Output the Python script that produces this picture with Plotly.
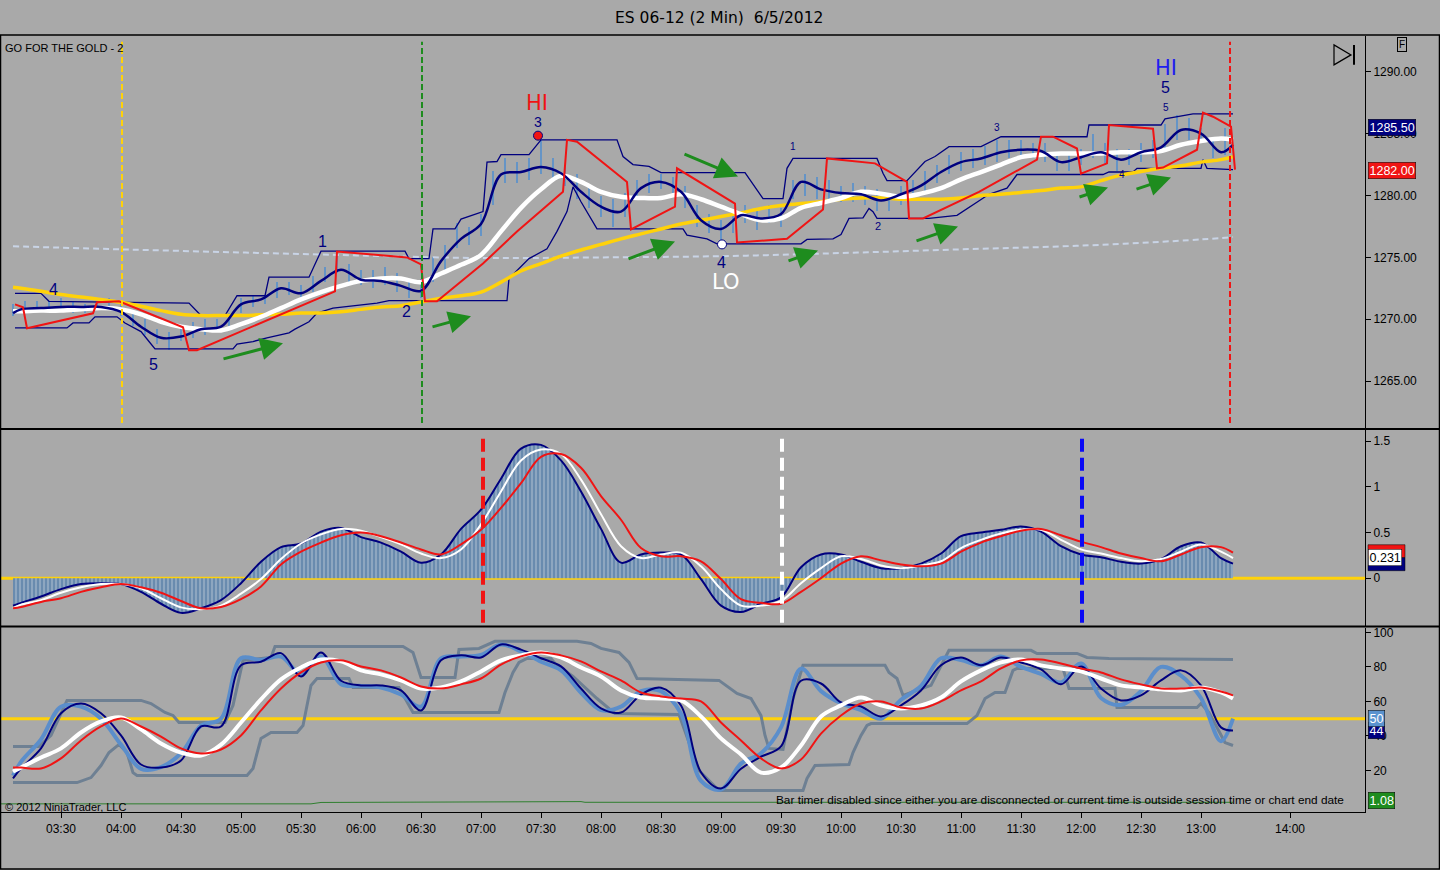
import plotly.graph_objects as go

W, H = 1440, 870
BG = "#A9A9A9"
NAVY = "#00007F"
RED = "#F01414"
GOLD = "#FFD20A"
GREEN = "#1E8C1E"

# ---------------------------------------------------------------- data
# 10-minute grid used by the smoothed indicator lines
T10 = [
    "03:06", "03:10", "03:20", "03:30", "03:40", "03:50",
    "04:00", "04:10", "04:20", "04:30", "04:40", "04:50",
    "05:00", "05:10", "05:20", "05:30", "05:40", "05:50",
    "06:00", "06:10", "06:20", "06:30", "06:40", "06:50",
    "07:00", "07:10", "07:20", "07:30", "07:40", "07:50",
    "08:00", "08:10", "08:20", "08:30", "08:40", "08:50",
    "09:00", "09:10", "09:20", "09:30", "09:40", "09:50",
    "10:00", "10:10", "10:20", "10:30", "10:40", "10:50",
    "11:00", "11:10", "11:20", "11:30", "11:40", "11:50",
    "12:00", "12:10", "12:20", "12:30", "12:40", "12:50",
    "13:00", "13:10", "13:16",
]

# price panel
MA_SLOW = [
    1272.58, 1272.50, 1272.26, 1272.00, 1271.80, 1271.60, 1271.37, 1271.05, 1270.70, 1270.40,
    1270.30, 1270.30, 1270.30, 1270.36, 1270.40, 1270.50, 1270.50, 1270.60, 1270.80, 1271.00,
    1271.10, 1271.40, 1271.70, 1271.90, 1272.20, 1273.00, 1273.90, 1274.50, 1275.10, 1275.60,
    1276.05, 1276.50, 1276.90, 1277.30, 1277.70, 1278.00, 1278.30, 1278.60, 1278.95, 1279.20,
    1279.35, 1279.50, 1279.70, 1279.80, 1279.80, 1279.70, 1279.70, 1279.70, 1279.80, 1280.00,
    1280.10, 1280.25, 1280.40, 1280.60, 1280.70, 1281.20, 1281.65, 1281.95, 1282.20, 1282.40,
    1282.70, 1282.90, 1283.15,
]
MA_MID = [
    1270.65, 1270.65, 1270.70, 1270.70, 1270.80, 1270.90, 1270.80, 1270.40, 1269.80, 1269.40,
    1269.20, 1269.10, 1269.60, 1270.20, 1270.90, 1271.60, 1272.20, 1272.70, 1273.10, 1273.30,
    1273.30, 1273.00, 1273.70, 1274.40, 1275.20, 1277.10, 1279.00, 1280.50, 1281.60, 1281.10,
    1280.30, 1279.90, 1279.80, 1279.80, 1280.10, 1279.70, 1279.10, 1278.50, 1278.00, 1278.15,
    1279.00, 1279.40, 1279.80, 1280.30, 1280.15, 1279.90, 1280.15, 1280.60, 1281.30, 1281.90,
    1282.50, 1283.10, 1283.30, 1283.40, 1283.40, 1283.40, 1283.50, 1283.50, 1283.60, 1284.10,
    1284.40, 1284.60, 1284.50,
]
MA_FAST = [
    1270.50, 1270.80, 1270.90, 1271.00, 1271.00, 1271.00, 1270.60, 1269.40, 1268.50, 1268.60,
    1269.20, 1269.40, 1271.20, 1271.60, 1272.50, 1272.10, 1273.10, 1274.00, 1273.20, 1273.10,
    1272.70, 1272.30, 1274.70, 1276.50, 1277.70, 1281.70, 1281.90, 1282.30, 1281.80, 1280.30,
    1279.10, 1278.70, 1280.60, 1281.10, 1280.30, 1278.00, 1277.30, 1278.40, 1278.15, 1278.50,
    1281.10, 1280.50, 1280.20, 1280.10, 1279.60, 1280.10, 1280.80, 1281.90, 1282.70, 1283.00,
    1283.50, 1283.70, 1283.60, 1282.70, 1283.10, 1283.50, 1282.90, 1283.50, 1283.90, 1285.30,
    1285.00, 1283.50, 1284.10,
]

MA_LONG_T = ["03:06", "04:00", "05:00", "06:00", "07:00", "08:00", "09:00",
             "10:00", "11:00", "12:00", "13:00", "13:16"]
MA_LONG = [1275.90, 1275.65, 1275.40, 1275.15, 1274.95, 1275.00, 1275.10,
           1275.35, 1275.65, 1275.95, 1276.45, 1276.65]

# 6-minute price bars (high / low)
BAR_T = [
    "03:06", "03:12", "03:18", "03:24", "03:30", "03:36", "03:42", "03:48", "03:54", "04:00",
    "04:06", "04:12", "04:18", "04:24", "04:30", "04:36", "04:42", "04:48", "04:54", "05:00",
    "05:06", "05:12", "05:18", "05:24", "05:30", "05:36", "05:42", "05:48", "05:54", "06:00",
    "06:06", "06:12", "06:18", "06:24", "06:30", "06:36", "06:42", "06:48", "06:54", "07:00",
    "07:06", "07:12", "07:18", "07:24", "07:30", "07:36", "07:42", "07:48", "07:54", "08:00",
    "08:06", "08:12", "08:18", "08:24", "08:30", "08:36", "08:42", "08:48", "08:54", "09:00",
    "09:06", "09:12", "09:18", "09:24", "09:30", "09:36", "09:42", "09:48", "09:54", "10:00",
    "10:06", "10:12", "10:18", "10:24", "10:30", "10:36", "10:42", "10:48", "10:54", "11:00",
    "11:06", "11:12", "11:18", "11:24", "11:30", "11:36", "11:42", "11:48", "11:54", "12:00",
    "12:06", "12:12", "12:18", "12:24", "12:30", "12:36", "12:42", "12:48", "12:54", "13:00",
    "13:06", "13:12",
]
BAR_HI = [
    1271.25, 1271.50, 1271.50, 1271.50, 1271.75, 1271.50, 1271.25, 1271.50, 1271.75, 1271.25,
    1270.75, 1270.00, 1269.25, 1269.00, 1269.25, 1269.75, 1270.00, 1270.00, 1270.50, 1271.75,
    1272.00, 1272.00, 1273.00, 1273.00, 1272.75, 1273.50, 1274.25, 1275.25, 1274.50, 1274.00,
    1274.00, 1274.25, 1273.75, 1273.25, 1273.25, 1275.00, 1276.00, 1277.75, 1277.50, 1278.50,
    1282.00, 1283.00, 1282.75, 1283.00, 1284.50, 1283.00, 1282.50, 1281.75, 1280.75, 1280.00,
    1279.75, 1280.25, 1281.25, 1281.75, 1281.75, 1281.50, 1280.75, 1279.25, 1278.50, 1278.00,
    1278.75, 1279.25, 1278.75, 1279.25, 1279.00, 1281.25, 1281.75, 1281.50, 1281.25, 1280.75,
    1281.00, 1280.75, 1280.50, 1280.25, 1280.75, 1281.25, 1282.00, 1282.50, 1283.25, 1283.50,
    1283.75, 1284.00, 1284.50, 1284.50, 1284.50, 1284.25, 1284.25, 1283.50, 1283.25, 1283.75,
    1285.00, 1284.25, 1283.75, 1283.75, 1284.25, 1284.50, 1285.75, 1286.50, 1286.25, 1285.50,
    1284.75, 1285.50,
]
BAR_LO = [
    1270.25, 1270.50, 1270.75, 1270.50, 1270.75, 1270.50, 1270.50, 1270.75, 1270.75, 1270.25,
    1269.50, 1268.75, 1268.00, 1267.50, 1268.25, 1268.50, 1268.75, 1269.00, 1269.25, 1270.50,
    1271.00, 1271.25, 1271.75, 1272.00, 1271.75, 1272.25, 1273.00, 1273.75, 1272.75, 1272.75,
    1272.50, 1272.75, 1272.25, 1271.75, 1271.75, 1273.00, 1274.00, 1275.75, 1276.00, 1276.75,
    1279.25, 1281.00, 1281.00, 1281.25, 1281.75, 1281.25, 1280.75, 1279.75, 1279.00, 1278.25,
    1277.50, 1278.25, 1279.75, 1280.25, 1280.50, 1280.00, 1279.00, 1277.50, 1277.00, 1276.00,
    1277.00, 1277.75, 1277.25, 1277.75, 1277.50, 1279.75, 1280.00, 1279.75, 1279.50, 1279.50,
    1279.50, 1279.25, 1278.75, 1278.75, 1279.25, 1279.75, 1280.25, 1281.00, 1281.75, 1282.00,
    1282.25, 1282.50, 1282.75, 1283.00, 1283.00, 1283.00, 1282.75, 1282.00, 1282.00, 1282.50,
    1283.00, 1282.50, 1282.00, 1282.50, 1282.75, 1283.00, 1283.75, 1284.50, 1284.50, 1284.25,
    1283.00, 1283.25,
]

# price channel (upper / lower)
UP_T = ["03:07", "03:20", "03:24", "04:34", "04:40", "04:52", "04:58", "05:12", "05:14", "05:34",
        "05:40", "06:22", "06:24", "06:34", "06:36", "06:47", "06:50", "07:01", "07:03", "07:08",
        "07:10", "07:24", "07:30", "08:08", "08:11", "08:16", "08:24", "08:30", "09:12", "09:17",
        "09:21", "09:31", "09:33", "09:36", "10:18", "10:21", "10:23", "10:33", "10:37", "10:42",
        "10:47", "10:54", "11:10", "11:20", "12:03", "12:04", "12:40", "12:42", "12:56", "13:16"]
UP_P = [1272.10, 1272.10, 1271.45, 1271.30, 1270.30, 1270.30, 1271.90, 1271.90, 1273.40, 1273.40,
        1275.50, 1275.50, 1274.90, 1274.90, 1277.30, 1277.30, 1278.10, 1278.70, 1282.70, 1282.75,
        1283.30, 1283.30, 1284.50, 1284.50, 1283.15, 1282.50, 1282.35, 1281.85, 1281.85, 1280.70,
        1279.75, 1279.75, 1282.20, 1283.00, 1283.00, 1281.80, 1281.20, 1281.20, 1281.90, 1282.75,
        1283.15, 1283.95, 1283.95, 1284.75, 1284.75, 1285.70, 1285.70, 1286.20, 1286.60, 1286.60]
DN_T = ["03:07", "03:33", "03:36", "03:44", "03:47", "03:58", "04:02", "04:10", "04:14", "04:17",
        "04:56", "04:58", "05:06", "05:13", "05:24", "05:27", "05:34", "05:38", "05:46", "06:08",
        "06:14", "07:13", "07:14", "07:24", "07:33", "07:38", "07:43", "07:46", "07:50", "07:58",
        "08:41", "08:43", "08:53", "08:58", "09:40", "09:43", "09:56", "10:00", "10:04", "10:11",
        "10:14", "10:16", "10:18", "10:44", "10:58", "11:03", "11:14", "11:23", "11:28", "12:11",
        "12:14", "12:26", "12:28", "13:00", "13:01", "13:03", "13:16"]
DN_P = [1269.30, 1269.30, 1269.70, 1269.70, 1270.20, 1270.20, 1269.70, 1269.00, 1268.20, 1267.60,
        1267.60, 1268.00, 1268.20, 1268.50, 1268.90, 1269.20, 1269.80, 1270.50, 1270.90, 1271.30,
        1271.50, 1271.50, 1273.30, 1274.90, 1275.70, 1277.10, 1278.70, 1280.70, 1279.50, 1277.30,
        1277.30, 1276.80, 1276.50, 1276.10, 1276.10, 1276.45, 1276.50, 1276.85, 1278.15, 1278.20,
        1278.95, 1278.70, 1278.15, 1278.15, 1278.40, 1278.95, 1280.10, 1280.60, 1281.70, 1281.70,
        1281.90, 1281.90, 1282.20, 1282.20, 1282.90, 1282.20, 1282.10]

# red trailing stop
RED_T = ["03:07", "03:11", "03:13", "03:46", "03:48", "03:59", "04:31", "04:34", "04:38", "05:47",
         "05:48", "06:23", "06:30", "06:32", "06:38", "07:01", "07:18", "07:41", "07:43", "07:48",
         "08:13", "08:15", "08:37", "08:38", "09:07", "09:08", "09:33", "09:51", "09:53", "10:17",
         "10:33", "10:34", "10:41", "11:09", "11:38", "11:40", "11:46", "11:58", "12:00", "12:13",
         "12:14", "12:36", "12:38", "12:41", "12:58", "13:01", "13:06", "13:15", "13:17"]
RED_P = [1271.20, 1270.97, 1269.27, 1270.48, 1271.37, 1271.45, 1269.35, 1267.50, 1267.50, 1272.26,
         1275.48, 1275.00, 1274.44, 1271.45, 1271.45, 1274.50, 1277.10, 1280.30, 1284.50, 1284.35,
         1281.10, 1277.26, 1279.10, 1282.20, 1279.35, 1276.20, 1276.50, 1278.87, 1283.00, 1282.60,
         1281.10, 1278.15, 1278.15, 1280.30, 1282.90, 1284.76, 1284.76, 1283.80, 1281.77, 1282.60,
         1285.70, 1285.40, 1282.20, 1282.26, 1283.70, 1286.70, 1286.37, 1285.56, 1282.10]

# swing points and wave counts
PIVOT_T = ["07:28:30", "09:00:30"]
PIVOT_P = [1284.84, 1276.05]
SWING_T = ["07:28", "09:02", "12:42:30"]
SWING_P = [1287.50, 1272.98, 1290.32]
SWING_TXT = ["HI", "LO", "HI"]
WAVE_T = ["03:26", "04:16", "05:40:30", "06:22:30", "07:28:30", "09:00",
          "09:36", "10:18:30", "11:18", "12:20:30", "12:42:30", "12:42"]
WAVE_P = [1272.40, 1266.35, 1276.30, 1270.65, 1285.95, 1274.60,
          1283.95, 1277.50, 1285.50, 1281.70, 1287.10, 1288.70]
WAVE_TXT = ["4", "5", "1", "2", "3", "4", "1", "2", "3", "4", "5", "5"]

# green arrows: tail -> head
ARROW_T0 = ["04:50:30", "06:35", "08:13", "08:41", "09:33", "10:37", "11:58:30", "12:27"]
ARROW_P0 = [1266.77, 1269.35, 1274.84, 1283.39, 1274.68, 1276.29, 1279.84, 1280.48]
ARROW_T1 = ["05:21", "06:55", "08:37", "09:08:30", "09:48:30", "10:58:30", "12:13:30", "12:45"]
ARROW_P1 = [1268.06, 1270.24, 1276.29, 1281.53, 1275.56, 1277.50, 1280.65, 1281.45]

TOP_VLINE_T = ["04:00:30", "06:30:30", "13:14:30"]
MACD_VLINE_T = ["07:01", "09:30:30", "12:00:30"]

# MACD panel
MACD = [
    -0.30, -0.27, -0.20, -0.12, -0.065, -0.055, -0.065, -0.15, -0.28, -0.38,
    -0.33, -0.24, -0.055, 0.18, 0.34, 0.38, 0.51, 0.55, 0.45, 0.39,
    0.29, 0.17, 0.26, 0.54, 0.75, 1.09, 1.42, 1.46, 1.29, 0.95,
    0.54, 0.17, 0.26, 0.28, 0.26, -0.01, -0.30, -0.37, -0.28, -0.21,
    0.12, 0.26, 0.26, 0.18, 0.11, 0.11, 0.16, 0.27, 0.46, 0.50,
    0.53, 0.565, 0.51, 0.35, 0.26, 0.23, 0.18, 0.16, 0.21, 0.35,
    0.39, 0.22, 0.16,
]
MACD_AVG = [
    -0.33, -0.29, -0.24, -0.16, -0.10, -0.065, -0.065, -0.11, -0.22, -0.32,
    -0.34, -0.30, -0.17, -0.01, 0.21, 0.38, 0.48, 0.54, 0.52, 0.45,
    0.37, 0.27, 0.22, 0.315, 0.59, 0.95, 1.29, 1.41, 1.36, 1.08,
    0.70, 0.35, 0.22, 0.26, 0.28, 0.13, -0.12, -0.30, -0.30, -0.25,
    -0.055, 0.11, 0.24, 0.21, 0.14, 0.11, 0.14, 0.185, 0.33, 0.42,
    0.49, 0.53, 0.53, 0.42, 0.315, 0.27, 0.22, 0.185, 0.21, 0.29,
    0.37, 0.29, 0.22,
]
MACD_SLOW = [
    -0.33, -0.315, -0.26, -0.22, -0.15, -0.10, -0.065, -0.10, -0.16, -0.25,
    -0.33, -0.315, -0.23, -0.09, 0.15, 0.29, 0.39, 0.47, 0.50, 0.46,
    0.39, 0.315, 0.26, 0.37, 0.53, 0.77, 1.04, 1.33, 1.36, 1.21,
    0.90, 0.64, 0.33, 0.24, 0.24, 0.185, -0.01, -0.23, -0.27, -0.28,
    -0.15, 0.0, 0.16, 0.24, 0.195, 0.15, 0.13, 0.16, 0.29, 0.39,
    0.46, 0.52, 0.54, 0.47, 0.40, 0.34, 0.27, 0.22, 0.185, 0.26,
    0.34, 0.34, 0.28,
]

# stochastics panel
STOCH_RAW = [
    17, 25, 38, 57, 57, 50, 35, 21, 22, 30,
    46, 50, 85, 84, 86, 76, 86, 70, 69, 68,
    64, 57, 85, 86, 87, 93, 89, 83, 78, 65,
    55, 57, 66, 66, 53, 14, 9, 24, 30, 45,
    79, 66, 59, 55, 50, 61, 69, 85, 84, 81,
    86, 80, 76, 71, 82, 62, 58, 66, 80, 75,
    62, 37, 50,
]
STOCH_K = [
    15.4, 21.2, 32.8, 53.2, 58.8, 53.2, 40.3, 23.5, 21.7, 25.8,
    45.5, 45.5, 81.0, 83.0, 88.0, 74.5, 88.4, 72.0, 69.3, 69.3,
    66.4, 54.8, 83.8, 86.7, 85.5, 93.0, 90.0, 85.0, 80.3, 67.5,
    56.0, 53.6, 64.0, 68.0, 57.7, 19.0, 9.6, 21.0, 28.0, 34.0,
    72.0, 70.4, 59.4, 57.1, 51.3, 57.7, 66.4, 81.0, 85.5, 81.0,
    85.5, 82.6, 78.6, 69.9, 80.3, 67.5, 60.6, 63.5, 72.2, 78.0,
    69.3, 45.0, 43.2,
]
STOCH_D = [
    19.4, 21.7, 27.5, 32.8, 42.0, 48.4, 50.7, 43.8, 35.7, 30.4,
    28.7, 35.0, 47.8, 61.2, 72.8, 79.7, 84.3, 83.2, 78.0, 75.7,
    72.2, 67.5, 68.1, 71.6, 77.4, 83.8, 86.7, 88.4, 85.5, 79.7,
    74.5, 66.4, 62.3, 61.7, 60.6, 51.3, 38.6, 29.3, 18.8, 21.7,
    34.5, 51.3, 57.7, 62.3, 57.7, 55.9, 57.7, 62.3, 71.6, 78.0,
    82.6, 84.3, 80.9, 79.1, 77.4, 73.3, 69.3, 68.1, 67.0, 66.4,
    68.1, 65.2, 61.7,
]
STOCH_SLOW = [
    21.7, 21.7, 21.2, 27.0, 37.4, 45.5, 50.1, 45.5, 39.7, 32.8,
    29.9, 32.2, 40.3, 54.8, 67.5, 76.8, 82.6, 83.8, 80.3, 78.0,
    73.9, 68.7, 67.5, 69.9, 73.3, 81.4, 86.1, 88.4, 86.7, 83.2,
    77.4, 72.2, 65.2, 62.9, 61.7, 60.0, 47.8, 37.4, 27.0, 21.2,
    26.4, 41.4, 51.9, 58.8, 60.0, 56.5, 55.9, 60.0, 66.4, 71.6,
    79.1, 83.8, 84.3, 82.0, 79.1, 76.8, 72.8, 69.9, 67.5, 67.5,
    68.1, 65.8, 63.5,
]
SU_T = ["03:06", "03:19", "03:25", "03:33", "04:10", "04:15", "04:22", "04:26", "04:29", "04:52",
        "04:56", "05:01", "05:15", "05:17", "06:21", "06:26", "06:30", "06:47", "06:49", "06:59",
        "07:07", "07:48", "07:55", "08:00", "08:09", "08:14", "08:18", "08:59", "09:08", "09:15",
        "09:20", "09:22", "09:24", "09:31", "09:36", "09:41", "10:22", "10:24", "10:28", "10:31",
        "10:45", "10:54", "11:35", "11:38", "11:58", "12:03", "12:14", "13:16"]
SU_V = [33.9, 33.9, 40.3, 60.6, 60.6, 58.8, 53.6, 51.9, 47.8, 47.8,
        57.7, 83.8, 85.5, 91.9, 91.9, 88.4, 73.9, 73.9, 90.1, 90.7,
        94.8, 94.8, 93.6, 90.7, 88.4, 82.6, 73.3, 72.2, 64.6, 61.7,
        51.9, 40.3, 32.8, 32.2, 61.7, 80.9, 80.9, 76.8, 73.3, 63.5,
        69.3, 89.6, 89.6, 87.8, 87.8, 85.5, 84.9, 84.3]
SL_T = ["03:06", "03:38", "03:45", "03:50", "03:54", "03:59", "04:03", "04:06", "04:08", "05:03",
        "05:06", "05:10", "05:15", "05:28", "05:31", "05:35", "05:38", "05:54", "05:56", "06:19",
        "06:26", "07:09", "07:12", "07:16", "07:19", "07:23", "07:35", "07:37", "07:46", "07:58",
        "08:07", "08:39", "08:44", "08:49", "08:59", "09:41", "09:43", "09:47", "10:04", "10:06",
        "10:10", "10:13", "10:15", "11:03", "11:08", "11:12", "11:17", "11:22", "11:26", "11:28",
        "11:51", "11:54", "12:17", "12:18", "12:58", "13:00", "13:04", "13:12", "13:16"]
SL_V = [13.0, 13.0, 15.9, 22.9, 30.4, 35.1, 30.4, 18.8, 17.1, 17.1,
        21.2, 38.6, 42.0, 42.0, 46.1, 69.3, 73.3, 73.3, 68.1, 68.1,
        53.6, 53.6, 65.2, 76.8, 82.6, 84.9, 84.9, 82.0, 74.5, 61.7,
        53.0, 52.5, 36.2, 20.0, 8.4, 8.4, 15.4, 22.9, 23.5, 30.4,
        40.3, 46.1, 47.2, 47.2, 51.9, 61.7, 65.2, 65.2, 78.0, 79.1,
        79.1, 67.5, 67.5, 56.5, 56.5, 58.8, 53.6, 36.2, 34.5]
TIMER_T = ["03:00", "05:35", "05:40", "06:55", "07:00", "07:50", "07:52", "13:16"]
TIMER_V = [0.7, 0.7, 1.5, 1.6, 2.0, 2.0, 1.6, 1.6]

PRICE_TICKS = [1265, 1270, 1275, 1280, 1285, 1290]
MACD_TICKS = [0, 0.5, 1, 1.5]
STOCH_TICKS = [20, 40, 60, 80, 100]
X_TICK_AT = ["03:30", "04:00", "04:30", "05:00", "05:30", "06:00", "06:30", "07:00",
             "07:30", "08:00", "08:30", "09:00", "09:30", "10:00", "10:30", "11:00",
             "11:30", "12:00", "12:30", "13:00", "13:44:30"]
X_TICK_TEXT = ["03:30", "04:00", "04:30", "05:00", "05:30", "06:00", "06:30", "07:00",
               "07:30", "08:00", "08:30", "09:00", "09:30", "10:00", "10:30", "11:00",
               "11:30", "12:00", "12:30", "13:00", "14:00"]


# ---------------------------------------------------------------- helpers
def mins(s):
    p = [int(v) for v in s.split(":")]
    return p[0] * 60 + p[1] + (p[2] / 60.0 if len(p) > 2 else 0.0)


def xs(times):
    return [mins(t) for t in times]


def px(x):
    return x / W


def py(y):
    return 1 - y / H


fig = go.Figure()


def add_line(times, vals, yaxis, color, width, shape="spline", dash=None):
    fig.add_trace(go.Scatter(x=xs(times), y=vals, yaxis=yaxis, mode="lines",
                             line=dict(color=color, width=width, shape=shape, dash=dash),
                             hoverinfo="skip"))


# ---- price panel
add_line(MA_LONG_T, MA_LONG, "y", "#C9D4E6", 2, dash="6px,4px")
fig.add_trace(go.Bar(x=xs(BAR_T), y=[h - l for h, l in zip(BAR_HI, BAR_LO)], base=BAR_LO,
                     yaxis="y", width=1.2, marker=dict(color="#6594C6", line=dict(width=0)),
                     hoverinfo="skip"))
add_line(UP_T, UP_P, "y", NAVY, 1.3, shape="linear")
add_line(DN_T, DN_P, "y", NAVY, 1.3, shape="linear")
add_line(T10, MA_SLOW, "y", GOLD, 3.5)
add_line(T10, MA_MID, "y", "white", 4.5)
add_line(T10, MA_FAST, "y", NAVY, 2.5)
add_line(RED_T, RED_P, "y", RED, 2, shape="linear")
fig.add_trace(go.Scatter(x=xs(PIVOT_T), y=PIVOT_P, yaxis="y", mode="markers",
                         marker=dict(size=9, color=[RED, "white"], line=dict(color=NAVY, width=1)),
                         hoverinfo="skip"))

# ---- MACD panel
fig.add_trace(go.Scatter(x=xs(T10), y=MACD, yaxis="y2", mode="lines", fill="tozeroy",
                         fillcolor="#8DA6C0",
                         fillpattern=dict(shape="|", size=4, solidity=0.45,
                                          fgcolor="#3D6A9A", bgcolor="#8DA6C0"),
                         line=dict(color=NAVY, width=2, shape="spline"), hoverinfo="skip"))
add_line(T10, MACD_AVG, "y2", "white", 2)
add_line(T10, MACD_SLOW, "y2", RED, 2)

# ---- stochastics panel
add_line(TIMER_T, TIMER_V, "y3", "#2F7F2F", 1, shape="linear")
add_line(SU_T, SU_V, "y3", "#6E8093", 3, shape="linear")
add_line(SL_T, SL_V, "y3", "#6E8093", 3, shape="linear")
add_line(T10, STOCH_RAW, "y3", "#5B8ECB", 4)
add_line(T10, STOCH_K, "y3", NAVY, 2)
add_line(T10, STOCH_D, "y3", "white", 4)
add_line(T10, STOCH_SLOW, "y3", RED, 2)

# ---------------------------------------------------------------- shapes
shapes = [
    dict(type="line", xref="x domain", x0=0, x1=1, yref="y2", y0=0, y1=0,
         line=dict(color=GOLD, width=3), layer="below"),
    dict(type="line", xref="x domain", x0=0, x1=1, yref="y3", y0=50, y1=50,
         line=dict(color=GOLD, width=3), layer="below"),
    dict(type="rect", xref="paper", yref="paper", x0=px(0.5), x1=px(1439.5), y0=py(869), y1=py(33),
         line=dict(color="black", width=1.5), layer="above"),
    dict(type="line", xref="paper", yref="paper", x0=0, x1=1, y0=py(428), y1=py(428),
         line=dict(color="black", width=2), layer="above"),
    dict(type="line", xref="paper", yref="paper", x0=0, x1=1, y0=py(626), y1=py(626),
         line=dict(color="black", width=2), layer="above"),
    # go-to-end button
    dict(type="path", xref="paper", yref="paper",
         path=f"M {px(1334)},{py(43)} L {px(1334)},{py(63)} L {px(1351)},{py(53)} Z",
         line=dict(color="black", width=1.2)),
    dict(type="line", xref="paper", yref="paper", x0=px(1354), x1=px(1354), y0=py(43), y1=py(63),
         line=dict(color="black", width=2)),
    # flags partly hidden behind the MACD value flag
    dict(type="rect", xref="paper", yref="paper", x0=px(1368), x1=px(1405), y0=py(557), y1=py(544),
         fillcolor=RED, line=dict(color="black", width=0.5), layer="above"),
    dict(type="rect", xref="paper", yref="paper", x0=px(1368), x1=px(1405), y0=py(570), y1=py(557),
         fillcolor=NAVY, line=dict(color="black", width=0.5), layer="above"),
]
for t, c in zip(TOP_VLINE_T, [GOLD, GREEN, RED]):
    shapes.append(dict(type="line", xref="x", x0=mins(t), x1=mins(t), yref="y domain",
                       y0=0.013, y1=0.985, line=dict(color=c, width=2, dash="6px,3px"),
                       layer="above"))
for t, c in zip(MACD_VLINE_T, [RED, "white", "#0A0AF5"]):
    shapes.append(dict(type="line", xref="x", x0=mins(t), x1=mins(t), yref="y2 domain",
                       y0=0.015, y1=0.98, line=dict(color=c, width=4, dash="13px,6px"),
                       layer="above"))

# ---------------------------------------------------------------- annotations
ann = [
    dict(xref="paper", yref="paper", x=px(719), y=py(16), yanchor="middle",
         text="ES 06-12 (2 Min)&nbsp; 6/5/2012",
         font=dict(family="DejaVu Sans", size=15.5), showarrow=False),
    dict(xref="paper", yref="paper", x=px(3), y=py(46), xanchor="left", yanchor="middle",
         text="GO FOR THE GOLD - 2", font=dict(size=11), showarrow=False),
    dict(xref="paper", yref="paper", x=px(3), y=py(807), xanchor="left", yanchor="middle",
         text="© 2012 NinjaTrader, LLC", font=dict(size=11), showarrow=False),
    dict(xref="paper", yref="paper", x=px(1346), y=py(800), xanchor="right", yanchor="middle",
         text="Bar timer disabled since either you are disconnected or current time is "
              "outside session time or chart end date",
         font=dict(size=11.8), showarrow=False),
    dict(xref="paper", yref="paper", x=px(1407), y=py(43), yanchor="middle", text="F",
         font=dict(size=10), bordercolor="black", borderwidth=1, borderpad=1, showarrow=False),
]
for t, p, s, c in zip(SWING_T, SWING_P, SWING_TXT, [RED, "white", "#2020F0"]):
    ann.append(dict(xref="x", yref="y", x=mins(t), y=p, text=s, showarrow=False,
                    font=dict(family="DejaVu Sans", size=21, color=c)))
wave_size = [16, 16, 16, 16, 14, 16, 10, 11, 10, 10, 10, 16]
for t, p, s, fs in zip(WAVE_T, WAVE_P, WAVE_TXT, wave_size):
    ann.append(dict(xref="x", yref="y", x=mins(t), y=p, text=s, showarrow=False,
                    font=dict(size=fs, color=NAVY)))
for t0, p0, t1, p1 in zip(ARROW_T0, ARROW_P0, ARROW_T1, ARROW_P1):
    ann.append(dict(xref="x", yref="y", x=mins(t1), y=p1, axref="x", ayref="y",
                    ax=mins(t0), ay=p0, text="", showarrow=True, arrowhead=2,
                    arrowsize=1.5, arrowwidth=3, arrowcolor=GREEN, standoff=0))

# value flags on the right axis
flags = [
    ("y", 1285.5, "1285.50", NAVY, "white"),
    ("y", 1282.0, "1282.00", RED, "white"),
    ("y2", 0.231, "0.231", "white", "black"),
    ("y3", 43.2, "44", NAVY, "white"),
    ("y3", 50.0, "50", "#5B93CF", "white"),
]
for ax_ref, v, s, bg, fg in flags:
    ann.append(dict(xref="paper", yref=ax_ref, x=px(1368), y=v, xanchor="left", yanchor="middle",
                    text=s, font=dict(size=12.5, color=fg), bgcolor=bg,
                    bordercolor="black", borderwidth=0.5, borderpad=1, showarrow=False))
ann.append(dict(xref="paper", yref="paper", x=px(1368), y=py(800), xanchor="left",
                yanchor="middle", text="1.08", font=dict(size=12.5, color="white"), bgcolor=GREEN,
                bordercolor="black", borderwidth=0.5, borderpad=1, showarrow=False))

axis_common = dict(showgrid=False, zeroline=False, showline=True, linecolor="black",
                   linewidth=1, ticks="outside", ticklen=5, tickcolor="black",
                   tickfont=dict(size=12, color="black"))

fig.update_layout(
    width=W, height=H, margin=dict(l=0, r=0, t=0, b=0),
    paper_bgcolor=BG, plot_bgcolor=BG, showlegend=False,
    font=dict(family="Liberation Sans, Arial, sans-serif", color="black"),
    xaxis=dict(domain=[0, px(1365)], range=[179.5, 862], anchor="y3",
               tickvals=xs(X_TICK_AT), ticktext=X_TICK_TEXT, **axis_common),
    yaxis=dict(domain=[py(427), py(34)], range=[1261.21, 1292.9], side="right", anchor="x",
               tickvals=PRICE_TICKS, tickformat=".2f", **axis_common),
    yaxis2=dict(domain=[py(625), py(429)], range=[-0.519, 1.623], side="right", anchor="x",
                tickvals=MACD_TICKS, **axis_common),
    yaxis3=dict(domain=[py(812), py(627)], range=[-4.1, 102.8], side="right", anchor="x",
                tickvals=STOCH_TICKS, **axis_common),
    shapes=shapes,
    annotations=ann,
    bargap=0,
)

# the page's default body margin would push the chart 8px off the window
fig.write_html("out.html", config={"displayModeBar": False},
               post_script="document.body.style.margin = '0';")
